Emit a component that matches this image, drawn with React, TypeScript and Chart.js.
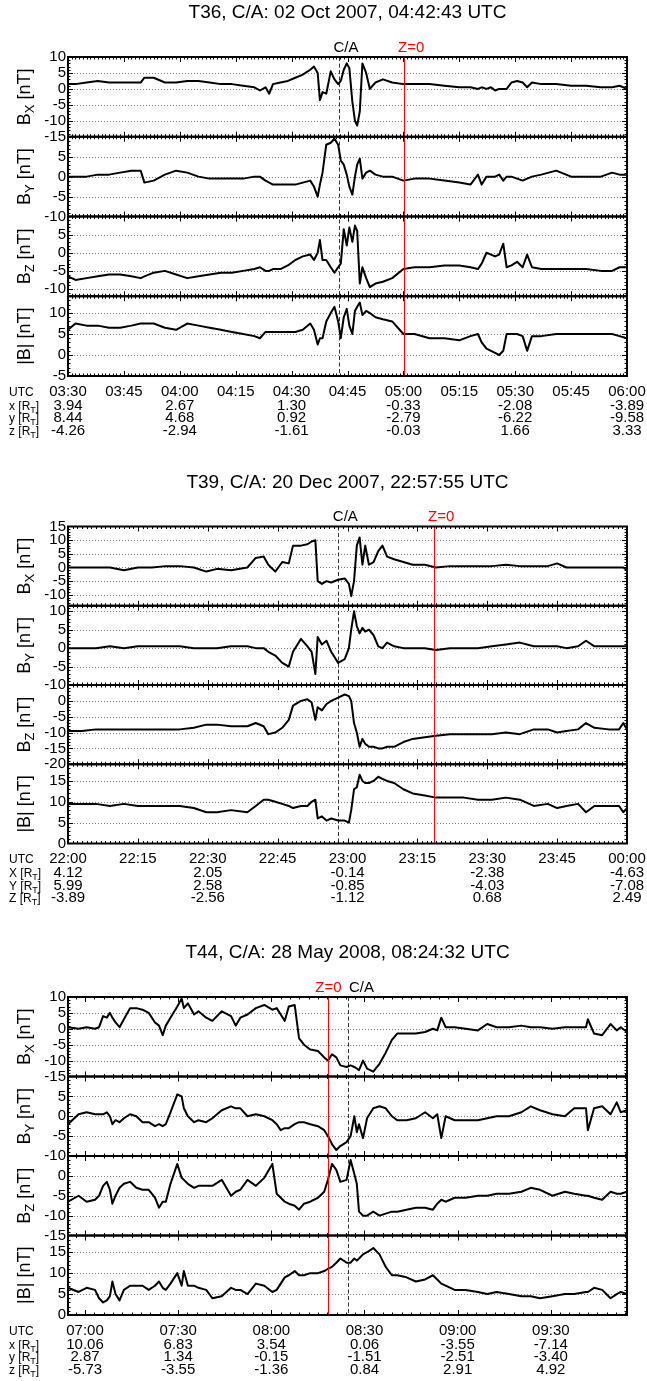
import React, { useEffect, useRef } from "react";
import { Chart, registerables } from "chart.js";

Chart.register(...registerables);

const FONT = "'Liberation Sans', Helvetica, Arial, sans-serif";
const PAGE_W = 647;
const PLOT_LEFT = 68;
const PLOT_RIGHT = 627;

// ================= T36 (minutes after 03:30 UTC) =================
const t36Title = "T36, C/A: 02 Oct 2007, 04:42:43 UTC";
const t36Minutes = [0, 2, 5, 8, 11, 14, 17, 19.5, 20.5, 23, 26, 29, 32, 35, 38, 41, 44, 47, 50, 51.5, 53, 54, 55, 57, 59, 61, 63, 65, 66, 67, 67.6, 68.3, 69.3, 70.5, 71.5, 72.5, 73.2, 74, 74.8, 75.5, 76.3, 77, 77.6, 78.3, 79, 80, 81, 82.5, 84.5, 87, 90, 93, 97, 101, 105, 108, 110, 111, 112.3, 113.5, 114.6, 115.7, 116.8, 117.7, 119, 120.5, 122, 123.2, 124.5, 127, 131, 135, 139, 143, 146, 148, 150];
const t36Bx = [1.5, 1.5, 2, 2.5, 2, 2, 2, 2, 3.5, 3.5, 2, 2, 2.5, 2.5, 2, 1.5, 1.5, 1, 0.5, -0.5, 0.5, -1.5, 1.5, 2, 2.5, 3.5, 4.5, 6, 7, 5, -3.5, -1, -1.5, 5.5, 3, 1.5, 2.5, 6, 8, 6.5, -4, -10, -11.5, -7, 8, 5, 0, 2, 3, 2, 1.5, 1.5, 1.5, 1, 0.5, 0.5, 0, 0.5, 0, 0.5, -0.5, 0, 0, 0, 2, 2.5, 2, 0.5, 2, 1.5, 1.5, 1, 1, 0.5, 0.5, 1, 0];
const t36By = [0, 0, 0, 0.5, 0.5, 1, 1.5, 1.5, -1.5, -1, 0.5, 1.5, 1, 0, -0.5, -0.5, -0.5, -0.5, 0, 0, -1, -1.5, -2, -2, -2, -2, -1.5, -1, -2.5, -5, -2, 1, 8, 8.5, 9.5, 8, 4, 3, 0.5, -2.5, -4.5, 0, 3, 4.5, -0.5, 1, 1.5, 0.5, 0, 0, -1, -0.5, -0.5, -1, -1.5, -2, 0.5, -2, 0, 0, 0, 0.5, -1, 0, 0, -0.5, -1, -0.5, 0, 0.5, 1.5, 0, 0, 0, 1, 0.5, 0.5];
const t36Bz = [-6.5, -7.5, -7, -6.5, -6, -6, -6.5, -7, -6.5, -5.5, -5, -6, -7, -6.5, -6, -5.5, -5.5, -5, -4.5, -4, -5, -5, -4.5, -4.5, -3.5, -2, -1, -0.5, -2, 0, 3.5, -2, -2, -4, -5.5, -4, -3, 6.5, 2, 7, 3, 7.5, 6, -8.5, -4, -7, -9.5, -8.5, -8, -7, -4.5, -4, -4, -3.5, -3.5, -4, -4.5, -3, 0, -0.5, -1, -0.5, 2.5, -4, -3.5, -2.5, -4, -0.5, -4, -4.5, -4.5, -4.5, -4.5, -5, -5, -4, -4];
const t36B = [6, 7.5, 7, 7, 6.5, 6.5, 7, 7.5, 7.5, 7.5, 6.5, 6, 7.5, 7, 6.5, 6, 5.5, 5, 4.5, 4, 5.5, 5.5, 5.5, 5.5, 5.5, 5.5, 6, 7.5, 6, 2.5, 4, 4, 8, 10, 11.5, 8, 4, 9, 11, 7, 5, 10.5, 11.5, 12.5, 9.5, 10.5, 10, 9, 8.5, 8, 5, 5, 4, 4, 3.5, 4.5, 5, 3, 1.5, 1, 0.5, 0, 1, 5, 5, 5, 4.5, 1, 4.5, 4.5, 5, 5, 5, 5, 5, 4.5, 4];
const t36TickMinutes = [0, 15, 30, 45, 60, 75, 90, 105, 120, 135, 150];
const t36TickLabels = ["03:30", "03:45", "04:00", "04:15", "04:30", "04:45", "05:00", "05:15", "05:30", "05:45", "06:00"];
const t36EphMinutes = [0, 30, 60, 90, 120, 150];
const t36EphX = ["3.94", "2.67", "1.30", "-0.33", "-2.08", "-3.89"];
const t36EphY = ["8.44", "4.68", "0.92", "-2.79", "-6.22", "-9.58"];
const t36EphZ = ["-4.26", "-2.94", "-1.61", "-0.03", "1.66", "3.33"];

// ================= T39 (minutes after 22:00 UTC) =================
const t39Title = "T39, C/A: 20 Dec 2007, 22:57:55 UTC";
const t39Minutes = [0, 3, 6, 9, 12, 15, 18, 21, 24, 27, 29.7, 32, 35, 38.5, 40.3, 42, 43, 44.5, 46, 47.4, 48.3, 50, 51.4, 52.3, 53.1, 53.6, 54.5, 55.5, 56.5, 58, 59.4, 60.3, 60.8, 61.4, 62, 62.6, 63.2, 63.8, 64.6, 65.6, 66.6, 67.5, 68.5, 70, 72, 74, 76.6, 79, 82, 85, 88, 91, 94, 97, 100, 103, 105, 107, 109.5, 111.2, 113, 116, 118.3, 119.2, 120];
const t39Bx = [0, 0, 0, 0, -1, 0, 0, 0.5, 0.5, 0, -1.5, -0.5, -1, 0, 3.5, 4, 1, -1.5, 2, 1.5, 8, 8, 8.5, 9.5, 10, -5, -6, -5, -5.5, -4.5, -4, -6, -10.5, -5, 8, 11, 1, 8, 1, 2, 6, 8, 4, 3, 2, 1, 1, 0, 0.5, 0.5, 0.5, 0.5, 1, 0.5, 0.5, 0.5, 1.5, 0, 0, 0, 0, 0, 0, 0, -1];
const t39By = [0, 0, 0, 0.5, 0, 0.5, 0.5, 0.5, 0.5, 0, 0, 0, 0.5, 0.5, 0, 0, -1, -2, -4, -5, -1, 2.5, 0.5, -1, -7, 3, 1, 2, -1, -4, -3, 0, 5, 10, 6, 4, 5.5, 4.5, 5, 3.5, 0.5, 0, 1.5, 0.5, 0, 0, 0, -0.5, 0, 0, 0, 0.5, 1, 1.5, 0.5, 0.5, 0.5, 0, 0.5, 2, 0.5, 0.5, 0.5, 0.5, 0.5];
const t39Bz = [-9.5, -9.5, -9, -9, -9, -9, -9, -9, -9, -8.5, -7.5, -7.5, -8, -8, -7, -8, -10.5, -10, -8.5, -6, -1.5, 0, 0.5, -0.5, -6, -2, -3, -1, 0, 1, 2, 1.5, 0, -7, -10, -14.5, -12, -13.5, -14.5, -14.5, -15, -15, -14.5, -14.5, -13, -12, -11.5, -11, -10.5, -10.5, -10.5, -10.5, -10, -10.5, -9, -9, -10, -9.5, -9, -7, -8.5, -9, -9, -7, -9];
const t39B = [9.5, 9.5, 9.5, 9, 9.5, 9, 9, 9, 9, 8.5, 7.5, 7.5, 8, 7.5, 9, 10.5, 10.5, 10, 9.5, 9, 8.5, 9, 9, 10, 10.5, 6, 6.5, 5.5, 6, 5.5, 5.5, 5, 8, 13, 13.5, 16.5, 15, 14.5, 14.5, 15, 16, 15.5, 15, 14.5, 13, 12, 11.5, 11, 11, 11, 10.5, 10.5, 11, 10.5, 9, 9.5, 8.5, 9, 9.5, 7.5, 9, 9, 9, 7.5, 8.5];
const t39TickMinutes = [0, 15, 30, 45, 60, 75, 90, 105, 120];
const t39TickLabels = ["22:00", "22:15", "22:30", "22:45", "23:00", "23:15", "23:30", "23:45", "00:00"];
const t39EphMinutes = [0, 30, 60, 90, 120];
const t39EphX = ["4.12", "2.05", "-0.14", "-2.38", "-4.63"];
const t39EphY = ["5.99", "2.58", "-0.85", "-4.03", "-7.08"];
const t39EphZ = ["-3.89", "-2.56", "-1.12", "0.68", "2.49"];

// ================= T44 (minutes after 06:54:32 UTC) =================
const t44Title = "T44, C/A: 28 May 2008, 08:24:32 UTC";
const t44Minutes = [0, 3.4, 6, 8.7, 10, 11.3, 12.5, 13.5, 14.3, 15.3, 16.6, 18, 20, 22, 24, 26, 28, 29.3, 30.5, 31.5, 33, 35.2, 36.6, 37.3, 38.6, 40.6, 42, 44.5, 46.5, 49.5, 52.5, 54, 55.5, 57.8, 60.5, 63.2, 65.8, 67.2, 68.5, 69.8, 71.1, 73, 74.4, 76, 78, 80.5, 82.5, 83.7, 85, 86.4, 87.7, 89.7, 91, 92.2, 93, 93.7, 95, 96.3, 98.3, 100.3, 102.3, 104.3, 106, 109, 112, 115, 117.5, 118.9, 120.2, 121.6, 124.5, 128, 132, 135, 138, 142, 146, 149, 152, 156, 160, 163, 166.8, 167.4, 169.4, 172, 174.7, 176.7, 178, 180];
const t44Bx = [0.5, 0, 0.5, 0, 0.5, 4, 3.5, 5, 3.5, 2, 0.5, 3, 6.5, 6.5, 6, 5, 2, 1, -2, 1, 3.5, 7, 9.5, 6.5, 8, 4.5, 5.5, 3.5, 2.5, 5.5, 4, 1, 3.5, 4.5, 6.5, 7.5, 6, 6.5, 4.5, 2.5, 7, 7.5, -3, -5, -6.5, -7, -9, -10, -8, -9, -11.5, -12, -11.5, -12, -12.5, -13, -10, -12.5, -13.5, -11, -7.5, -3.5, -1.5, -1.5, -1.5, -1, 0, -0.5, 3.5, 0.5, 0.5, 0, -0.5, 1.5, 0.5, 0.5, 1, 0.5, 0.5, 0, 0.5, 0.5, 0.5, 3, -1.5, -2, 1.5, -0.5, 0.5, -1];
const t44By = [-2, 0.5, 1, 0.5, 0.5, 0.5, 1, 0, -2, -1, -1.5, -0.5, 0.5, 0, -1.5, -1.5, -2.5, -2, -2.5, -2, 1, 5.5, 5, 2, 0, -1.5, -1, -1.5, -0.5, 1.5, 2.5, 2, 2, 0, 0.5, 0, -1, -2, -3.5, -3, -3, -2, -1.5, -1.5, -2, -2.5, -3.5, -5, -7, -8.5, -7.5, -6.5, -5, 0, -4, -2, -5.5, -0.5, 2, 2.5, 2, 0, -1, -1, -0.5, 1, -0.5, 0.5, -5.5, 0, -1, -1, -1, -0.5, 0, 0, 1, 2.5, 1.5, 0.5, 0, 2, 2, -3.5, 2, 2.5, 0.5, 3.5, 1, 1.5];
const t44Bz = [-6.5, -5, -6.5, -6, -5, -2.5, -1.5, -3.5, -7, -5, -3, -2, -1.5, -3, -3.5, -3.5, -5.5, -8, -6.5, -6.5, -2, 3, -0.5, -1, -2, -3, -2.5, -2.5, -2.5, -1, -5, -4, -3.5, -1, -2.5, -0.5, 3, -4.5, -5.5, -6.5, -7, -7.5, -8.5, -7, -6.5, -5.5, -4, -1, 3, 1.5, -1.5, -1, 4, 0.5, -2, -9, -10, -10, -9, -10, -9.5, -9, -9, -8.5, -8, -8, -8.5, -7, -6, -6.5, -5.5, -5.5, -5, -5, -4.5, -4.5, -4, -3, -3.5, -5, -4, -4.5, -5, -5, -5.5, -6, -4, -4.5, -4.5, -4];
const t44B = [6.5, 5.5, 6.5, 6, 4, 3, 3.5, 4.5, 8, 5, 3.5, 6, 7, 7, 7, 6, 7, 8, 6.5, 6, 7.5, 10, 7, 10.5, 7, 7, 6.5, 6, 4, 4.5, 6.5, 6, 6, 5, 7.5, 7, 5.5, 6, 7.5, 9, 9.5, 10.5, 9.5, 9.5, 10, 10, 10.5, 11, 11.5, 12.5, 13.5, 12.5, 12.5, 13.5, 13, 13.5, 14.5, 15, 16, 14.5, 11.5, 9.5, 9.5, 9, 8, 8.5, 9.5, 8.5, 7.5, 7, 6, 6, 5.5, 5, 5.5, 5, 4.5, 4.5, 4, 4.5, 5, 5, 5.5, 5.5, 6.5, 6, 4, 5, 5.5, 5];
const t44TickMinutes = [5.4667, 35.4667, 65.4667, 95.4667, 125.4667, 155.4667];
const t44TickLabels = ["07:00", "07:30", "08:00", "08:30", "09:00", "09:30"];
const t44EphMinutes = [5.4667, 35.4667, 65.4667, 95.4667, 125.4667, 155.4667];
const t44EphX = ["10.06", "6.83", "3.54", "0.06", "-3.55", "-7.14"];
const t44EphY = ["2.87", "1.34", "-0.15", "-1.51", "-2.51", "-3.40"];
const t44EphZ = ["-5.73", "-3.55", "-1.36", "0.84", "2.91", "4.92"];

type Panel = { main: string; sub: string; min: number; max: number; values: number[] };
type EphRow = { name: string; values: string[] };
type Group = {
  id: string;
  title: string;
  minutes: number[];
  span: number;
  panels: Panel[];
  tickMinutes: number[];
  tickLabels: string[];
  minorStep: number;
  ephMinutes: number[];
  ephRows: EphRow[];
  ca: number;
  z0: number;
  caDx: number;
  z0Dx: number;
  canvasTop: number;
  canvasHeight: number;
  plotTop: number;
  plotBottom: number;
};

const GROUPS: Group[] = [
  {
    id: "t36", title: t36Title, minutes: t36Minutes, span: 150,
    panels: [
      { main: "B", sub: "X", min: -15, max: 10, values: t36Bx },
      { main: "B", sub: "Y", min: -10, max: 10, values: t36By },
      { main: "B", sub: "Z", min: -12, max: 10, values: t36Bz },
      { main: "|B|", sub: "", min: -5, max: 14, values: t36B },
    ],
    tickMinutes: t36TickMinutes, tickLabels: t36TickLabels, minorStep: 1,
    ephMinutes: t36EphMinutes,
    ephRows: [{ name: "x", values: t36EphX }, { name: "y", values: t36EphY }, { name: "z", values: t36EphZ }],
    ca: 72.717, z0: 90.2, caDx: 7, z0Dx: 7,
    canvasTop: 0, canvasHeight: 462, plotTop: 57, plotBottom: 376,
  },
  {
    id: "t39", title: t39Title, minutes: t39Minutes, span: 120,
    panels: [
      { main: "B", sub: "X", min: -14, max: 15, values: t39Bx },
      { main: "B", sub: "Y", min: -10, max: 11.5, values: t39By },
      { main: "B", sub: "Z", min: -20, max: 5, values: t39Bz },
      { main: "|B|", sub: "", min: 0, max: 19, values: t39B },
    ],
    tickMinutes: t39TickMinutes, tickLabels: t39TickLabels, minorStep: 1,
    ephMinutes: t39EphMinutes,
    ephRows: [{ name: "X", values: t39EphX }, { name: "Y", values: t39EphY }, { name: "Z", values: t39EphZ }],
    ca: 57.917, z0: 78.6, caDx: 7.5, z0Dx: 7,
    canvasTop: 462, canvasHeight: 470, plotTop: 526.5, plotBottom: 843.5,
  },
  {
    id: "t44", title: t44Title, minutes: t44Minutes, span: 180,
    panels: [
      { main: "B", sub: "X", min: -15, max: 10, values: t44Bx },
      { main: "B", sub: "Y", min: -10, max: 10, values: t44By },
      { main: "B", sub: "Z", min: -15, max: 5, values: t44Bz },
      { main: "|B|", sub: "", min: 0, max: 19, values: t44B },
    ],
    tickMinutes: t44TickMinutes, tickLabels: t44TickLabels, minorStep: 3,
    ephMinutes: t44EphMinutes,
    ephRows: [{ name: "x", values: t44EphX }, { name: "y", values: t44EphY }, { name: "z", values: t44EphZ }],
    ca: 90, z0: 83.7, caDx: 14, z0Dx: 0.5,
    canvasTop: 932, canvasHeight: 449, plotTop: 997, plotBottom: 1315,
  },
];

function decorPlugin(g: Group) {
  return {
    id: "decor_" + g.id,
    beforeDatasetsDraw(chart: any) {
      const ctx: CanvasRenderingContext2D = chart.ctx;
      const a = chart.chartArea;
      const xs = chart.scales.x;
      ctx.save();
      ctx.lineWidth = 1;
      ctx.strokeStyle = "#808080";
      ctx.setLineDash([1, 2]);
      g.panels.forEach((p, i) => {
        const ys = chart.scales["y" + i];
        for (let v = Math.ceil(p.min / 5) * 5; v < p.max; v += 5) {
          if (v <= p.min) continue;
          const y = Math.round(ys.getPixelForValue(v)) + 0.5;
          ctx.beginPath();
          ctx.moveTo(a.left, y);
          ctx.lineTo(a.right, y);
          ctx.stroke();
        }
      });
      const xc = Math.round(xs.getPixelForValue(g.ca)) + 0.5;
      ctx.setLineDash([4, 2.5]);
      ctx.strokeStyle = "#333";
      ctx.beginPath();
      ctx.moveTo(xc, a.top);
      ctx.lineTo(xc, a.bottom);
      ctx.stroke();
      ctx.restore();
    },
    afterDatasetsDraw(chart: any) {
      const ctx: CanvasRenderingContext2D = chart.ctx;
      const a = chart.chartArea;
      const xs = chart.scales.x;
      ctx.save();
      const xz = Math.round(xs.getPixelForValue(g.z0)) + 0.5;
      ctx.setLineDash([]);
      ctx.lineWidth = 1;
      ctx.strokeStyle = "#ff0000";
      ctx.beginPath();
      ctx.moveTo(xz, a.top);
      ctx.lineTo(xz, a.bottom);
      ctx.stroke();
      ctx.restore();
    },
    afterDraw(chart: any) {
      const ctx: CanvasRenderingContext2D = chart.ctx;
      const a = chart.chartArea;
      const xs = chart.scales.x;
      ctx.save();
      ctx.fillStyle = "#000";
      ctx.strokeStyle = "#000";

      const majors = g.tickMinutes;
      const minors: number[] = [];
      const first = majors[0] - Math.floor(majors[0] / g.minorStep) * g.minorStep;
      for (let m = first; m <= g.span + 1e-6; m += g.minorStep) {
        if (majors.some((t) => Math.abs(t - m) < 1e-3)) continue;
        minors.push(m);
      }

      g.panels.forEach((p, i) => {
        const ys = chart.scales["y" + i];
        const top = ys.top;
        const bottom = ys.bottom;
        ctx.lineWidth = 1;
        ctx.setLineDash([]);
        const drawX = (m: number, len: number) => {
          const x = Math.round(xs.getPixelForValue(m)) + 0.5;
          ctx.beginPath();
          ctx.moveTo(x, top);
          ctx.lineTo(x, top + len);
          ctx.moveTo(x, bottom);
          ctx.lineTo(x, bottom - len);
          ctx.stroke();
        };
        minors.forEach((m) => drawX(m, 2.5));
        majors.forEach((m) => drawX(m, 5));
        for (let v = Math.ceil(p.min); v <= p.max; v++) {
          if (v <= p.min || v >= p.max) continue;
          const len = v % 5 === 0 ? 5 : 2.5;
          const y = Math.round(ys.getPixelForValue(v)) + 0.5;
          ctx.beginPath();
          ctx.moveTo(a.left, y);
          ctx.lineTo(a.left + len, y);
          ctx.moveTo(a.right, y);
          ctx.lineTo(a.right - len, y);
          ctx.stroke();
        }
        ctx.lineWidth = 2;
        ctx.strokeRect(a.left, top, a.right - a.left, bottom - top);

        ctx.font = `15px ${FONT}`;
        ctx.textAlign = "right";
        ctx.textBaseline = "middle";
        for (let v = Math.ceil(p.min / 5) * 5; v <= p.max + 1e-9; v += 5) {
          if (v === p.max && i > 0) continue;
          ctx.fillText(String(v), a.left - 2, ys.getPixelForValue(v));
        }

        const cy = (top + bottom) / 2;
        ctx.save();
        ctx.translate(30, cy);
        ctx.rotate(-Math.PI / 2);
        ctx.textAlign = "left";
        ctx.textBaseline = "alphabetic";
        ctx.font = `18px ${FONT}`;
        const w1 = ctx.measureText(p.main).width;
        const rest = " [nT]";
        const w3 = ctx.measureText(rest).width;
        ctx.font = `13px ${FONT}`;
        const w2 = p.sub ? ctx.measureText(p.sub).width : 0;
        let tx = -(w1 + w2 + w3) / 2;
        ctx.font = `18px ${FONT}`;
        ctx.fillText(p.main, tx, 0);
        tx += w1;
        if (p.sub) {
          ctx.font = `13px ${FONT}`;
          ctx.fillText(p.sub, tx, 4);
          tx += w2;
        }
        ctx.font = `18px ${FONT}`;
        ctx.fillText(rest, tx, 0);
        ctx.restore();
      });

      ctx.font = `15px ${FONT}`;
      ctx.textAlign = "center";
      ctx.textBaseline = "alphabetic";
      ctx.fillStyle = "#000";
      ctx.fillText("C/A", xs.getPixelForValue(g.ca) + g.caDx, a.top - 5.5);
      ctx.fillStyle = "#ff0000";
      ctx.fillText("Z=0", xs.getPixelForValue(g.z0) + g.z0Dx, a.top - 5.5);

      ctx.fillStyle = "#000";
      ctx.font = `19px ${FONT}`;
      ctx.fillText(g.title, (a.left + a.right) / 2, a.top - 39);

      const rowY = [a.bottom + 19.5, a.bottom + 33.5, a.bottom + 46, a.bottom + 58.5];
      ctx.textAlign = "left";
      ctx.font = `12px ${FONT}`;
      ctx.fillText("UTC", 9, rowY[0]);
      g.ephRows.forEach((r, k) => {
        const y = rowY[k + 1];
        let x = 9;
        ctx.font = `12px ${FONT}`;
        const s1 = r.name + " [R";
        ctx.fillText(s1, x, y);
        x += ctx.measureText(s1).width;
        ctx.font = `9px ${FONT}`;
        ctx.fillText("T", x, y + 3);
        x += ctx.measureText("T").width;
        ctx.font = `12px ${FONT}`;
        ctx.fillText("]", x, y);
      });
      ctx.textAlign = "center";
      ctx.font = `15px ${FONT}`;
      g.tickMinutes.forEach((m, k) => {
        ctx.fillText(g.tickLabels[k], xs.getPixelForValue(m), rowY[0]);
      });
      g.ephRows.forEach((r, k) => {
        r.values.forEach((v, j) => {
          ctx.fillText(v, xs.getPixelForValue(g.ephMinutes[j]), rowY[k + 1]);
        });
      });
      ctx.restore();
    },
  };
}

function buildConfig(g: Group): any {
  const scales: any = {
    x: { type: "linear", min: 0, max: g.span, display: false },
  };
  g.panels.forEach((p, i) => {
    scales["y" + i] = {
      type: "linear",
      min: p.min,
      max: p.max,
      display: false,
      position: "right",
      stack: "panels",
      stackWeight: 1,
    };
  });
  return {
    type: "line",
    data: {
      datasets: g.panels.map((p, i) => ({
        data: g.minutes.map((m, j) => ({ x: m, y: p.values[j] })),
        xAxisID: "x",
        yAxisID: "y" + i,
        borderColor: "#000",
        borderWidth: 2,
        borderJoinStyle: "round",
        pointRadius: 0,
        tension: 0,
        fill: false,
      })),
    },
    options: {
      responsive: false,
      animation: false,
      devicePixelRatio: 1,
      events: [],
      layout: {
        padding: {
          left: PLOT_LEFT,
          right: PAGE_W - PLOT_RIGHT,
          top: g.plotTop - g.canvasTop,
          bottom: g.canvasTop + g.canvasHeight - g.plotBottom,
        },
      },
      plugins: { legend: { display: false }, tooltip: { enabled: false }, title: { display: false } },
      scales,
    },
    plugins: [decorPlugin(g)],
  };
}

function GroupChart({ g }: { g: Group }) {
  const ref = useRef<HTMLCanvasElement>(null);
  useEffect(() => {
    const canvas = ref.current;
    if (!canvas) return;
    const chart = new Chart(canvas, buildConfig(g));
    return () => chart.destroy();
  }, [g]);
  return (
    <canvas
      ref={ref}
      width={PAGE_W}
      height={g.canvasHeight}
      style={{ position: "absolute", left: 0, top: g.canvasTop, width: PAGE_W, height: g.canvasHeight }}
    />
  );
}

export default function App() {
  return (
    <div style={{ position: "absolute", left: 0, top: 0, width: PAGE_W, height: 1381, background: "#fff" }}>
      {GROUPS.map((g) => (
        <GroupChart key={g.id} g={g} />
      ))}
    </div>
  );
}
